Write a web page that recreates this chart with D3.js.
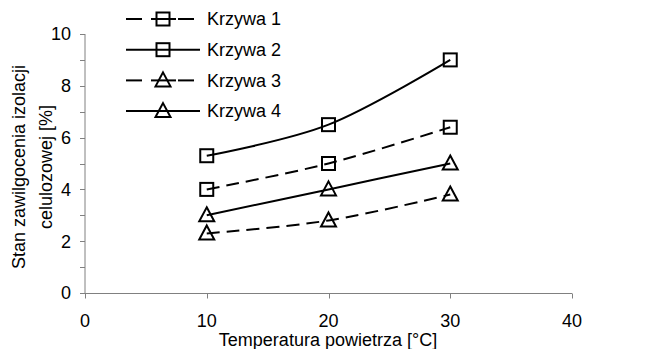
<!DOCTYPE html>
<html>
<head>
<meta charset="utf-8">
<script src="https://cdn.jsdelivr.net/npm/d3@7"></script>
<style>
  body { margin: 0; background: #fff; }
  text { font-family: "Liberation Sans", Arial, sans-serif; fill: #000; }
</style>
</head>
<body>
<svg id="chart" width="651" height="349"></svg>
<script>
// data
const temps = [10, 20, 30];
const curveNames = ['Krzywa 1', 'Krzywa 2', 'Krzywa 3', 'Krzywa 4'];
const krzywa1 = [4.0, 5.0, 6.4];
const krzywa2 = [5.3, 6.5, 9.0];
const krzywa3 = [2.3, 2.8, 3.8];
const krzywa4 = [3.0, 4.0, 5.0];
const xTicks = [0, 10, 20, 30, 40];
const yTicks = [0, 2, 4, 6, 8, 10];

const series = [
    { name: curveNames[0], values: krzywa1, dashed: true, marker: 'square' },
    { name: curveNames[1], values: krzywa2, dashed: false, marker: 'square' },
    { name: curveNames[2], values: krzywa3, dashed: true, marker: 'triangle' },
    { name: curveNames[3], values: krzywa4, dashed: false, marker: 'triangle' }
];

const svg = d3.select('#chart');
const axisColor = '#808080';
const fontSize = '18px';

const x = d3.scaleLinear().domain([0, 40]).range([85, 572]);
const y = d3.scaleLinear().domain([0, 10]).range([293, 34]);

// y axis: major + minor ticks pointing left
const yAxis = svg.append('g').attr('transform', 'translate(' + x(0) + ',0)');
yAxis.append('line')
    .attr('x1', 0).attr('x2', 0)
    .attr('y1', y(0)).attr('y2', y(10))
    .attr('stroke', axisColor);
yAxis.selectAll('.tk')
    .data(d3.range(0, 11, 1))
    .enter()
    .append('line')
    .attr('x1', -5).attr('x2', 0)
    .attr('y1', d => Math.round(y(d)) + 0.5)
    .attr('y2', d => Math.round(y(d)) + 0.5)
    .attr('stroke', axisColor);
yAxis.selectAll('text')
    .data(yTicks)
    .enter()
    .append('text')
    .attr('x', -14)
    .attr('y', d => y(d))
    .attr('dy', '0.35em')
    .attr('text-anchor', 'end')
    .style('font-size', fontSize)
    .text(d => d);

// x axis: ticks pointing down
const xAxis = svg.append('g').attr('transform', 'translate(0,' + (Math.round(y(0)) + 0.5) + ')');
xAxis.append('line')
    .attr('x1', x(0)).attr('x2', x(40))
    .attr('stroke', axisColor);
xAxis.selectAll('.tk')
    .data(xTicks)
    .enter()
    .append('line')
    .attr('x1', d => Math.round(x(d)) + 0.5)
    .attr('x2', d => Math.round(x(d)) + 0.5)
    .attr('y1', 0).attr('y2', 5)
    .attr('stroke', axisColor);
xAxis.selectAll('text')
    .data(xTicks)
    .enter()
    .append('text')
    .attr('x', d => x(d))
    .attr('y', 33.5)
    .attr('text-anchor', 'middle')
    .style('font-size', fontSize)
    .text(d => d);

// axis titles
svg.append('text')
    .attr('x', 328).attr('y', 345.5)
    .attr('text-anchor', 'middle')
    .style('font-size', fontSize)
    .text('Temperatura powietrza [°C]');

const yTitle = svg.append('text')
    .attr('transform', 'translate(25,167) rotate(-90)')
    .attr('text-anchor', 'middle')
    .style('font-size', fontSize);
yTitle.append('tspan').attr('x', 0).attr('dy', 0).text('Stan zawilgocenia izolacji');
yTitle.append('tspan').attr('x', 0).attr('dy', 26.5).text('celulozowej [%]');

// markers
function drawMarker(g, type, cx, cy) {
    if (type === 'square') {
        g.append('rect')
            .attr('x', cx - 6.5).attr('y', cy - 6.5)
            .attr('width', 13).attr('height', 13)
            .attr('fill', 'none')
            .attr('stroke', '#000')
            .attr('stroke-width', 2);
    } else {
        g.append('path')
            .attr('d', 'M' + cx + ',' + (cy - 8) + 'L' + (cx + 7.5) + ',' + (cy + 6) + 'L' + (cx - 7.5) + ',' + (cy + 6) + 'Z')
            .attr('fill', 'none')
            .attr('stroke', '#000')
            .attr('stroke-width', 2);
    }
}

const line = d3.line()
    .x((d, i) => x(temps[i]))
    .y(d => y(d))
    .curve(d3.curveCatmullRom.alpha(0));

series.forEach(function (s) {
    const g = svg.append('g');
    g.append('path')
        .attr('d', line(s.values))
        .attr('fill', 'none')
        .attr('stroke', '#000')
        .attr('stroke-width', 2)
        .attr('stroke-dasharray', s.dashed ? '13,7' : null);
    s.values.forEach(function (v, i) {
        drawMarker(g, s.marker, x(temps[i]), y(v));
    });
});

// legend
const legend = svg.append('g');
series.forEach(function (s, i) {
    const ly = 19 + i * 30.7;
    const row = legend.append('g');
    if (s.dashed) {
        row.append('line').attr('x1', 126).attr('x2', 142).attr('y1', ly).attr('y2', ly)
            .attr('stroke', '#000').attr('stroke-width', 2);
        row.append('line').attr('x1', 151).attr('x2', 176).attr('y1', ly).attr('y2', ly)
            .attr('stroke', '#000').attr('stroke-width', 2);
        row.append('line').attr('x1', 178).attr('x2', 194).attr('y1', ly).attr('y2', ly)
            .attr('stroke', '#000').attr('stroke-width', 2);
    } else {
        row.append('line').attr('x1', 126).attr('x2', 200).attr('y1', ly).attr('y2', ly)
            .attr('stroke', '#000').attr('stroke-width', 2);
    }
    drawMarker(row, s.marker, 163, ly);
    row.append('text')
        .attr('x', 207).attr('y', ly)
        .attr('dy', '0.35em')
        .style('font-size', fontSize)
        .text(s.name);
});
</script>
</body>
</html>
